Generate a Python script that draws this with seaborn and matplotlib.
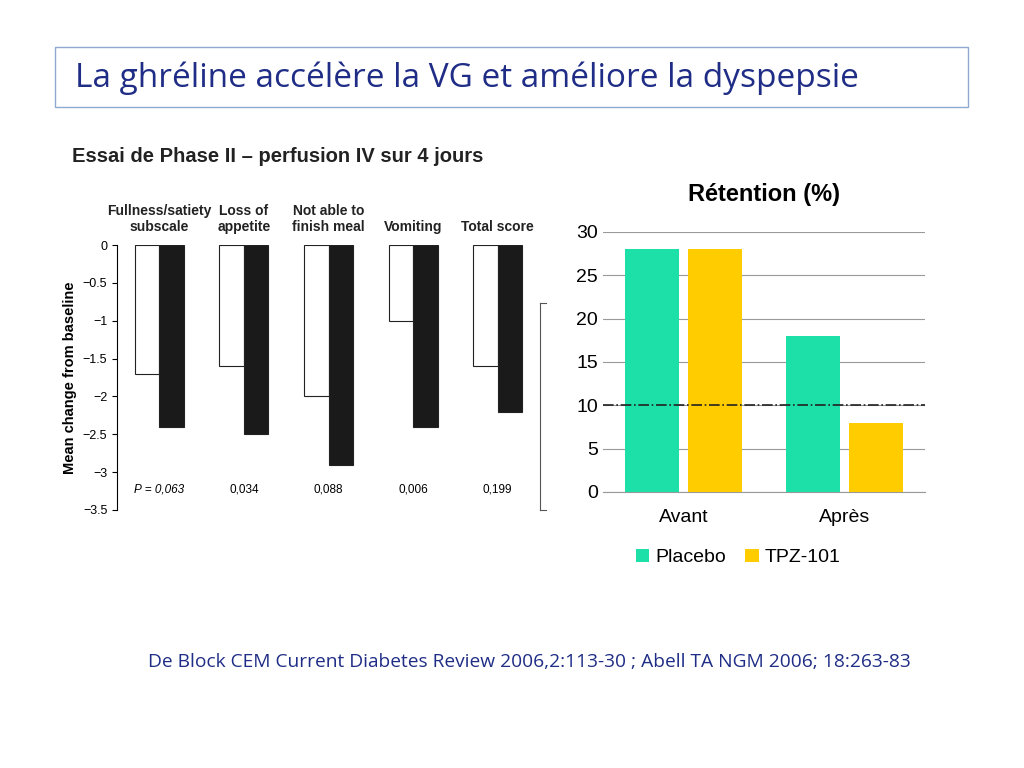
import matplotlib
matplotlib.use("Agg")
import matplotlib.pyplot as plt
import seaborn as sns
import pandas as pd
from matplotlib.patches import Rectangle

left_cats = ["Fullness/satiety\nsubscale", "Loss of\nappetite", "Not able to\nfinish meal", "Vomiting", "Total score"]
placebo_left = [-1.7, -1.6, -2.0, -1.0, -1.6]
ghrelin_left = [-2.4, -2.5, -2.9, -2.4, -2.2]
p_values = ["P = 0,063", "0,034", "0,088", "0,006", "0,199"]

right_cats = ["Avant", "Après"]
placebo_right = [28, 18]
tpz_right = [28, 8]
threshold = 10

fig = plt.figure(figsize=(10.24, 7.68), dpi=100)
fig.patches.append(Rectangle((55/1024, 1-107/768), 913/1024, 60/768, transform=fig.transFigure,
                             fill=False, edgecolor="#8faad0", lw=1))
fig.text(75/1024, 1-78/768, "La ghréline accélère la VG et améliore la dyspepsie",
         fontsize=24, color="#1f2d86", family="Open Sans", va="center")
fig.text(72/1024, 1-157/768, "Essai de Phase II – perfusion IV sur 4 jours",
         fontsize=14.5, weight="bold", color="#222", family="Liberation Sans", va="center")
fig.text(148/1024, 1-662/768, "De Block CEM Current Diabetes Review 2006,2:113-30 ; Abell TA NGM 2006; 18:263-83",
         fontsize=13.8, color="#1f2d86", family="Open Sans", va="center")

# Left chart
dl = pd.DataFrame({"cat": left_cats*2, "val": placebo_left+ghrelin_left,
                   "grp": ["Placebo"]*5 + ["Ghrelin"]*5})
ax1 = fig.add_axes([117/1024, 1-510/768, 423/1024, 265/768])
sns.barplot(data=dl, x="cat", y="val", hue="grp", palette=["white", "#1a1a1a"], saturation=1,
            edgecolor="#222", linewidth=0.8, width=0.58, ax=ax1, legend=False)
ax1.set_ylim(-3.5, 0)
ax1.set_xlim(-0.5, 4.5)
ax1.set_yticks([0, -0.5, -1, -1.5, -2, -2.5, -3, -3.5])
ax1.set_yticklabels(["0", "−0.5", "−1", "−1.5", "−2", "−2.5", "−3", "−3.5"], fontsize=9,
                    family="Liberation Sans")
ax1.xaxis.tick_top()
ax1.set_xticks(range(5))
ax1.set_xticklabels(left_cats, fontsize=10, weight="bold", color="#222", family="Liberation Sans",
                    ha="left")
for lbl, off in zip(ax1.get_xticklabels(), [-0.72, -0.3, -0.42, -0.3, -0.53]):
    pass
ax1.set_xticklabels(left_cats, fontsize=10, weight="bold", color="#222", family="Liberation Sans",
                    ha="center")
ax1.tick_params(axis="x", length=0, pad=8)
ax1.set_xlabel("")
ax1.set_ylabel("Mean change from baseline", fontsize=10.5, weight="bold", family="Liberation Sans")
for s in ["top", "right", "bottom"]:
    ax1.spines[s].set_visible(False)
for i, p in enumerate(p_values):
    ax1.text(i, -3.27, p, ha="center", fontsize=8.5, family="Liberation Sans",
             style="italic" if i == 0 else "normal")
ax1.plot([1.0, 1.0], [0.0, 0.78], transform=ax1.transAxes, color="#555", lw=0.8, clip_on=False)
ax1.plot([1.0, 1.015], [0.78, 0.78], transform=ax1.transAxes, color="#555", lw=0.8, clip_on=False)
ax1.plot([1.0, 1.015], [0.0, 0.0], transform=ax1.transAxes, color="#555", lw=0.8, clip_on=False)

# Right chart
dr = pd.DataFrame({"cat": right_cats*2, "val": placebo_right+tpz_right,
                   "grp": ["Placebo"]*2 + ["TPZ-101"]*2})
ax2 = fig.add_axes([603/1024, 1-492/768, 322/1024, 260/768])
sns.barplot(data=dr, x="cat", y="val", hue="grp", palette=["#1de0a8", "#ffcc00"], saturation=1,
            width=0.78, gap=0.15, ax=ax2, zorder=3)
ax2.set_ylim(0, 30)
ax2.set_yticks(range(0, 31, 5))
ax2.yaxis.grid(True, color="#999", lw=0.8, zorder=0)
ax2.set_axisbelow(True)
ax2.axhline(threshold, color="#222", ls="-.", lw=1.2, zorder=4)
for s in ["top", "right", "left"]:
    ax2.spines[s].set_visible(False)
ax2.spines["bottom"].set_color("#999")
ax2.tick_params(length=0, labelsize=14)
for t in ax2.get_xticklabels() + ax2.get_yticklabels():
    t.set_family("Liberation Sans")
ax2.tick_params(axis="x", pad=12)
ax2.set_xlabel("")
ax2.set_ylabel("")
ax2.set_title("Rétention (%)", fontsize=17, weight="bold", pad=22, family="Liberation Sans")
ax2.legend(loc="upper center", bbox_to_anchor=(0.42, -0.15), ncol=2, frameon=False,
           prop={"family": "Liberation Sans", "size": 14}, handlelength=0.7, handleheight=0.7,
           columnspacing=1.0, handletextpad=0.3)

fig.savefig("out.png", dpi=100)
